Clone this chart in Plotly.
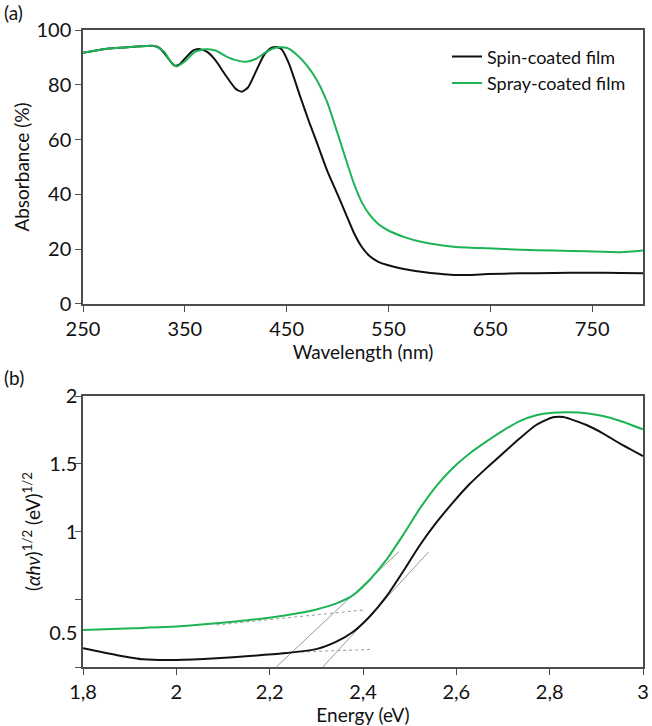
import plotly.graph_objects as go

# ---- Panel (a): absorbance vs wavelength ----
wl_spin = [250, 270, 300, 320, 325, 330, 335, 340, 345, 350, 358, 365, 372, 380, 390, 400, 406, 412,
           420, 428, 435, 440, 445, 452, 464, 472, 480, 490, 500, 508, 516, 524, 532, 540, 549, 565,
           582, 600, 614, 630, 647, 679, 712, 745, 778, 800]
ab_spin = [91.7, 93.0, 93.9, 94.2, 93.5, 91.5, 89.0, 87.0, 87.5, 89.5, 92.5, 93.0, 92.0, 89.0, 83.5,
           78.5, 77.5, 79.0, 85.0, 91.0, 93.5, 93.8, 93.0, 88.0, 75.0, 66.5, 58.6, 48.5, 40.0, 33.0,
           26.0, 20.7, 17.3, 15.4, 14.2, 12.8, 11.8, 11.0, 10.6, 10.6, 10.9, 11.2, 11.3, 11.4, 11.3,
           11.2]

wl_spray = [250, 270, 300, 320, 330, 335, 342, 350, 360, 370, 380, 390, 400, 410, 420, 430, 440, 450,
            460, 470, 480, 490, 500, 508, 516, 524, 532, 540, 549, 565, 582, 614, 647, 680, 713, 745,
            778, 800]
ab_spray = [91.7, 93.0, 93.9, 94.2, 92.0, 89.0, 86.7, 88.5, 92.0, 93.0, 92.5, 90.5, 89.0, 88.4, 89.5,
            92.0, 93.6, 93.5, 91.0, 87.0, 81.5, 73.5, 62.3, 53.0, 44.0, 37.0, 32.3, 29.2, 27.0, 24.5,
            22.7, 20.9, 20.3, 19.8, 19.5, 19.2, 18.9, 19.5]

# ---- Panel (b): (alpha h nu)^1/2 vs energy ----
en_spin = [1.80, 1.871, 1.929, 2.0, 2.086, 2.157, 2.229, 2.30, 2.343, 2.379, 2.414, 2.45, 2.486, 2.521,
           2.557, 2.593, 2.629, 2.664, 2.70, 2.736, 2.771, 2.807, 2.829, 2.879, 2.914, 2.95, 3.0]
tauc_spin = [0.138, 0.089, 0.057, 0.052, 0.064, 0.081, 0.101, 0.132, 0.187, 0.26, 0.371, 0.519, 0.705,
             0.895, 1.065, 1.215, 1.352, 1.466, 1.577, 1.688, 1.786, 1.843, 1.845, 1.786, 1.725, 1.651,
             1.557]

en_spray = [1.80, 1.907, 2.0, 2.086, 2.157, 2.229, 2.30, 2.343, 2.379, 2.414, 2.45, 2.486, 2.521, 2.557,
            2.593, 2.629, 2.664, 2.70, 2.736, 2.771, 2.807, 2.843, 2.879, 2.914, 2.95, 3.0]
tauc_spray = [0.273, 0.286, 0.298, 0.322, 0.347, 0.379, 0.425, 0.47, 0.531, 0.642, 0.79, 0.975, 1.165,
              1.335, 1.47, 1.577, 1.663, 1.745, 1.815, 1.858, 1.877, 1.88, 1.872, 1.852, 1.818, 1.754]

# tangent (extrapolation) lines
tan_spray_steep_x = [2.214, 2.477]
tan_spray_steep_y = [0.0, 0.851]
tan_spin_steep_x = [2.314, 2.541]
tan_spin_steep_y = [0.0, 0.851]
tan_spray_base_x = [2.086, 2.402]
tan_spray_base_y = [0.31, 0.421]
tan_spin_base_x = [2.229, 2.417]
tan_spin_base_y = [0.106, 0.13]

y2_tickvals = [0.25, 1, 1.5, 2]
y2_ticktext = ["0.5", "1", "1.5", "2"]
x2_tickvals = [1.8, 2.0, 2.2, 2.4, 2.6, 2.8, 3.0]
x2_ticktext = ["1,8", "2", "2,2", "2,4", "2,6", "2,8", "3"]

BLACK = "#111111"
GREEN = "#1db455"
GRAY = "#9a9a9a"
AXC = "#4d4d4d"
FONT = "Lato"

fig = go.Figure()
fig.add_trace(go.Scatter(x=wl_spin, y=ab_spin, mode="lines", name="Spin-coated film",
                         line=dict(color=BLACK, width=2, shape="spline", smoothing=0.6),
                         xaxis="x", yaxis="y"))
fig.add_trace(go.Scatter(x=wl_spray, y=ab_spray, mode="lines", name="Spray-coated film",
                         line=dict(color=GREEN, width=2, shape="spline", smoothing=0.6),
                         xaxis="x", yaxis="y"))

for xs, ys, dash in [(tan_spray_steep_x, tan_spray_steep_y, "solid"),
                     (tan_spin_steep_x, tan_spin_steep_y, "solid"),
                     (tan_spray_base_x, tan_spray_base_y, "dot"),
                     (tan_spin_base_x, tan_spin_base_y, "dot")]:
    fig.add_trace(go.Scatter(x=xs, y=ys, mode="lines", showlegend=False,
                             line=dict(color=GRAY, width=1, dash=dash),
                             xaxis="x2", yaxis="y2"))

fig.add_trace(go.Scatter(x=en_spin, y=tauc_spin, mode="lines", showlegend=False,
                         line=dict(color=BLACK, width=2, shape="spline", smoothing=0.6),
                         xaxis="x2", yaxis="y2"))
fig.add_trace(go.Scatter(x=en_spray, y=tauc_spray, mode="lines", showlegend=False,
                         line=dict(color=GREEN, width=2, shape="spline", smoothing=0.6),
                         xaxis="x2", yaxis="y2"))

axis_common = dict(showline=True, linecolor=AXC, linewidth=1.5, mirror=True, showgrid=False,
                   zeroline=False, ticks="outside", ticklen=6, tickcolor=AXC, automargin=False,
                   tickfont=dict(family=FONT, size=20, color="#111111"))

TF = dict(family=FONT, size=19, color="#111111")

fig.update_layout(
    width=652, height=726,
    margin=dict(l=83, r=9, t=30, b=59),
    paper_bgcolor="white", plot_bgcolor="white",
    font=dict(family=FONT, color="#111111"),
    xaxis=dict(domain=[0, 1], range=[250, 800], tickvals=[250, 350, 450, 550, 650, 750],
               anchor="y",
               title=dict(text="Wavelength (nm)", font=TF, standoff=5),
               **axis_common),
    yaxis=dict(domain=[0.5699, 1], range=[0, 100], tickvals=[0, 20, 40, 60, 80, 100],
               anchor="x",
               title=dict(text="Absorbance (%)", font=TF, standoff=2),
               **axis_common),
    xaxis2=dict(domain=[0, 1], range=[1.8, 3.0], tickvals=x2_tickvals, ticktext=x2_ticktext,
                anchor="y2",
                title=dict(text="Energy (eV)", font=TF, standoff=9),
                **axis_common),
    yaxis2=dict(domain=[0, 0.4254], range=[0, 2], tickvals=y2_tickvals, ticktext=y2_ticktext,
                anchor="x2",
                title=dict(text="(<i>αhν</i>)<sup>1/2</sup> (eV)<sup>1/2</sup>",
                           font=TF, standoff=4),
                **{k: v for k, v in axis_common.items() if k != "ticks"},
                ticks="",
                minor=dict(tickvals=[0, 0.5, 1, 1.5, 2], ticks="outside", ticklen=6,
                           tickcolor=AXC, showgrid=False)),
    legend=dict(x=0.65, y=0.987, xanchor="left", yanchor="top", bgcolor="rgba(0,0,0,0)",
                font=dict(family=FONT, size=18, color="#111111"), itemwidth=30, tracegroupgap=0),
    showlegend=True,
    annotations=[
        dict(text="(a)", x=-0.145, y=1.027, xref="paper", yref="paper", xanchor="left",
             yanchor="middle", showarrow=False, font=dict(family=FONT, size=19)),
        dict(text="(b)", x=-0.145, y=0.4537, xref="paper", yref="paper", xanchor="left",
             yanchor="middle", showarrow=False, font=dict(family=FONT, size=19)),
    ],
)

fig.write_html("out.html")
